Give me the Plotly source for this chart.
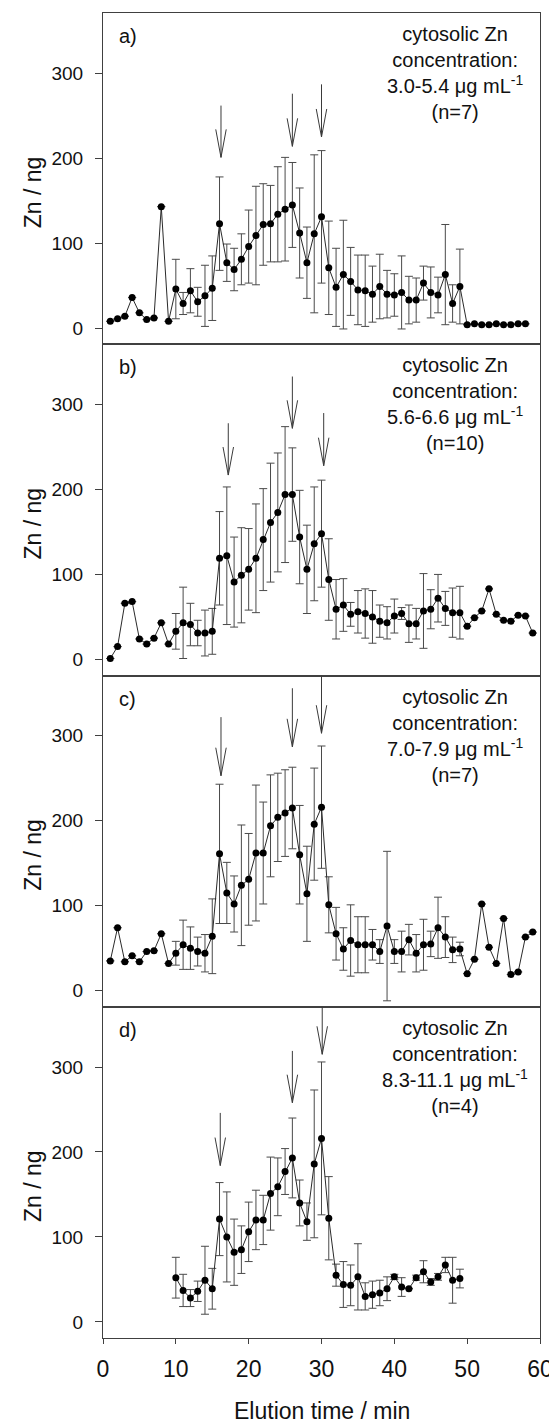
import plotly.graph_objects as go
from plotly.subplots import make_subplots

N = None
# ---- data ----
a_x = list(range(1, 59))
a_y = [8, 11, 14, 36, 18, 10, 12, 143, 8,
       46, 29, 44, 31, 38, 47, 123, 77, 69, 81,
       96, 109, 122, 123, 134, 140, 145, 112, 77, 111,
       131, 71, 48, 63, 55, 45, 44, 40, 49, 40,
       39, 42, 33, 33, 53, 42, 39, 63, 29, 49,
       4, 5, 4, 4, 5, 4, 4, 5, 5]
a_err = [N] * 9 + [35, 13, 26, 17, 36, 38, 55, 22, 25, 30,
                   43, 58, 48, 45, 56, 61, 50, 53, 42, 93,
                   78, 55, 46, 64, 40, 41, 42, 33, 38, 28,
                   25, 43, 28, 26, 20, 30, 21, 59, 22, 44] + [N] * 9

b_x = list(range(1, 60))
b_y = [1, 15, 66, 68, 24, 18, 25, 43, 18,
       33, 43, 41, 31, 31, 33, 119, 122, 91, 99,
       106, 119, 141, 161, 173, 194, 194, 144, 106, 136,
       148, 94, 59, 64, 53, 56, 54, 50, 45, 43,
       51, 54, 42, 42, 57, 59, 72, 60, 55, 55,
       39, 49, 57, 83, 53, 46, 45, 52, 51, 31]
b_err = [N] * 9 + [21, 42, 25, 15, 27, 27, 55, 81, 53, 56,
                   48, 64, 60, 70, 70, 80, 55, 55, 52, 67,
                   63, 48, 35, 31, 14, 25, 29, 31, 19, 19,
                   20, 7, 22, 18, 44, 23, 28, 20, 29, 31] + [N] * 10

c_x = list(range(1, 60))
c_y = [35, 74, 34, 41, 34, 46, 47, 67, 32,
       44, 54, 50, 46, 44, 64, 161, 115, 102, 124,
       131, 162, 162, 194, 204, 209, 215, 160, 114, 196,
       216, 101, 67, 49, 59, 54, 54, 54, 46, 76,
       46, 46, 60, 44, 54, 55, 74, 63, 48, 49,
       20, 37, 102, 51, 32, 85, 19, 22, 63, 69]
c_err = [N] * 9 + [14, 29, 25, 17, 22, 44, 82, 36, 33, 71,
                   54, 80, 60, 60, 52, 51, 48, 58, 56, 66,
                   72, 33, 31, 25, 42, 33, 33, 18, 14, 88,
                   14, 24, 18, 22, 30, 15, 36, 24, 15, 8] + [N] * 10

d_x = list(range(10, 50))
d_y = [52, 37, 28, 36, 49, 39, 121, 100, 82, 85,
       106, 120, 120, 151, 159, 177, 193, 140, 118, 186,
       216, 122, 55, 44, 43, 53, 30, 32, 34, 39,
       53, 41, 39, 52, 59, 47, 53, 67, 49, 51]
d_err = [24, 19, 10, 12, 40, 24, 43, 53, 39, 28,
         35, 35, 29, 43, 34, 27, 47, 27, 22, 87,
         90, 49, 13, 27, 24, 39, 16, 16, 15, 14,
         3, 11, N, 3, 13, 4, 4, 9, 27, 11]

# arrows: x position, tail value, head value
a_arrow_x = [16.2, 26.0, 30.0]
a_arrow_tail = [262, 276, 287]
a_arrow_head = [201, 214, 225]
b_arrow_x = [17.2, 26.0, 30.3]
b_arrow_tail = [278, 333, 290]
b_arrow_head = [217, 272, 228]
c_arrow_x = [16.2, 26.0, 30.0]
c_arrow_tail = [322, 356, 372]
c_arrow_head = [253, 287, 303]
d_arrow_x = [16.1, 26.0, 30.1]
d_arrow_tail = [246, 319, 372]
d_arrow_head = [184, 258, 315]

panel_labels = ["a)", "b)", "c)", "d)"]
conc_labels = ["3.0-5.4", "5.6-6.6", "7.0-7.9", "8.3-11.1"]
n_labels = ["(n=7)", "(n=10)", "(n=7)", "(n=4)"]
y_ticks = [0, 100, 200, 300]
x_ticks = [0, 10, 20, 30, 40, 50, 60]
y_title = "Zn / ng"
x_title = "Elution time / min"

panels = [
    (a_x, a_y, a_err, a_arrow_x, a_arrow_tail, a_arrow_head),
    (b_x, b_y, b_err, b_arrow_x, b_arrow_tail, b_arrow_head),
    (c_x, c_y, c_err, c_arrow_x, c_arrow_tail, c_arrow_head),
    (d_x, d_y, d_err, d_arrow_x, d_arrow_tail, d_arrow_head),
]

FONT = "Arial, Liberation Sans, sans-serif"
PAGE_OFF = 8  # default body margin of the html page
W, H = 557 - PAGE_OFF, 1425 - PAGE_OFF
PLOT_L, PLOT_R, PLOT_T, PLOT_B = 103, 540, 13, 1338  # target page pixels
ML = PLOT_L - PAGE_OFF
MT = PLOT_T - PAGE_OFF
MR = 557 - PLOT_R
MB = 1425 - PLOT_B
plot_w = PLOT_R - PLOT_L
plot_h = PLOT_B - PLOT_T
panel_h = plot_h / 4

fig = make_subplots(rows=4, cols=1, shared_xaxes=True, vertical_spacing=0)

shapes = []
annotations = []
wing_dx = 0.72
wing_dy = 33

for i, (xs, ys, es, ax_, at_, ah_) in enumerate(panels):
    r = i + 1
    fig.add_trace(go.Scatter(
        x=xs, y=ys, mode="lines+markers",
        line=dict(color="#2a2a2a", width=1),
        marker=dict(color="black", size=7),
        error_y=dict(type="data", array=es, symmetric=True,
                     color="#4a4a4a", thickness=1, width=4),
        showlegend=False,
    ), row=r, col=1)
    xref = "x" if r == 1 else f"x{r}"
    yref = "y" if r == 1 else f"y{r}"
    for xv, tv, hv in zip(ax_, at_, ah_):
        style = dict(type="line", xref=xref, yref=yref,
                     line=dict(color="#3a3a3a", width=1))
        shapes.append(dict(style, x0=xv, x1=xv, y0=tv, y1=hv))
        shapes.append(dict(style, x0=xv - wing_dx, x1=xv, y0=hv + wing_dy, y1=hv))
        shapes.append(dict(style, x0=xv + wing_dx, x1=xv, y0=hv + wing_dy, y1=hv))
    # panel letter
    annotations.append(dict(
        text=panel_labels[i], xref=f"{xref} domain", yref=f"{yref} domain",
        x=(117 - PLOT_L) / plot_w, y=1 - 23 / panel_h,
        xanchor="left", yanchor="middle", showarrow=False,
        font=dict(family=FONT, size=20, color="#111")))
    # concentration text
    annotations.append(dict(
        text=("cytosolic Zn<br>concentration:<br>"
              f"{conc_labels[i]} \u03bcg mL<sup>-1</sup><br>{n_labels[i]}"),
        xref=f"{xref} domain", yref=f"{yref} domain",
        x=(455 - PLOT_L) / plot_w, y=1 - 8 / panel_h,
        xanchor="center", yanchor="top", align="center", showarrow=False,
        font=dict(family=FONT, size=20, color="#111")))
    # y title
    annotations.append(dict(
        text=y_title, xref="paper", yref=yref,
        x=(33 - PLOT_L) / plot_w, y=160, xanchor="center", yanchor="middle",
        textangle=-90, showarrow=False,
        font=dict(family=FONT, size=23, color="#111")))
    fig.update_yaxes(
        row=r, col=1, range=[-19, 371], tickvals=y_ticks,
        ticks="outside", ticklen=7, tickcolor="#404040",
        showline=True, linecolor="#404040", linewidth=1, mirror=True,
        showgrid=False, zeroline=False, ticklabelstandoff=8,
        tickfont=dict(family=FONT, size=19, color="#111"))
    fig.update_xaxes(
        row=r, col=1, range=[0, 60], tickvals=x_ticks,
        showline=True, linecolor="#404040", linewidth=1, mirror=True,
        showgrid=False, zeroline=False,
        ticks="outside" if r == 4 else "", ticklen=5, tickcolor="#404040",
        showticklabels=(r == 4), ticklabelstandoff=5,
        tickfont=dict(family=FONT, size=23, color="#111"))

annotations.append(dict(
    text=x_title, xref="paper", yref="paper",
    x=0.5, y=-73 / plot_h, xanchor="center", yanchor="middle",
    showarrow=False, font=dict(family=FONT, size=23, color="#111")))

fig.update_layout(
    width=W, height=H,
    margin=dict(l=ML, r=MR, t=MT, b=MB, autoexpand=False),
    paper_bgcolor="white", plot_bgcolor="white",
    shapes=shapes, annotations=annotations,
    font=dict(family=FONT),
)

fig.write_html("out.html")
